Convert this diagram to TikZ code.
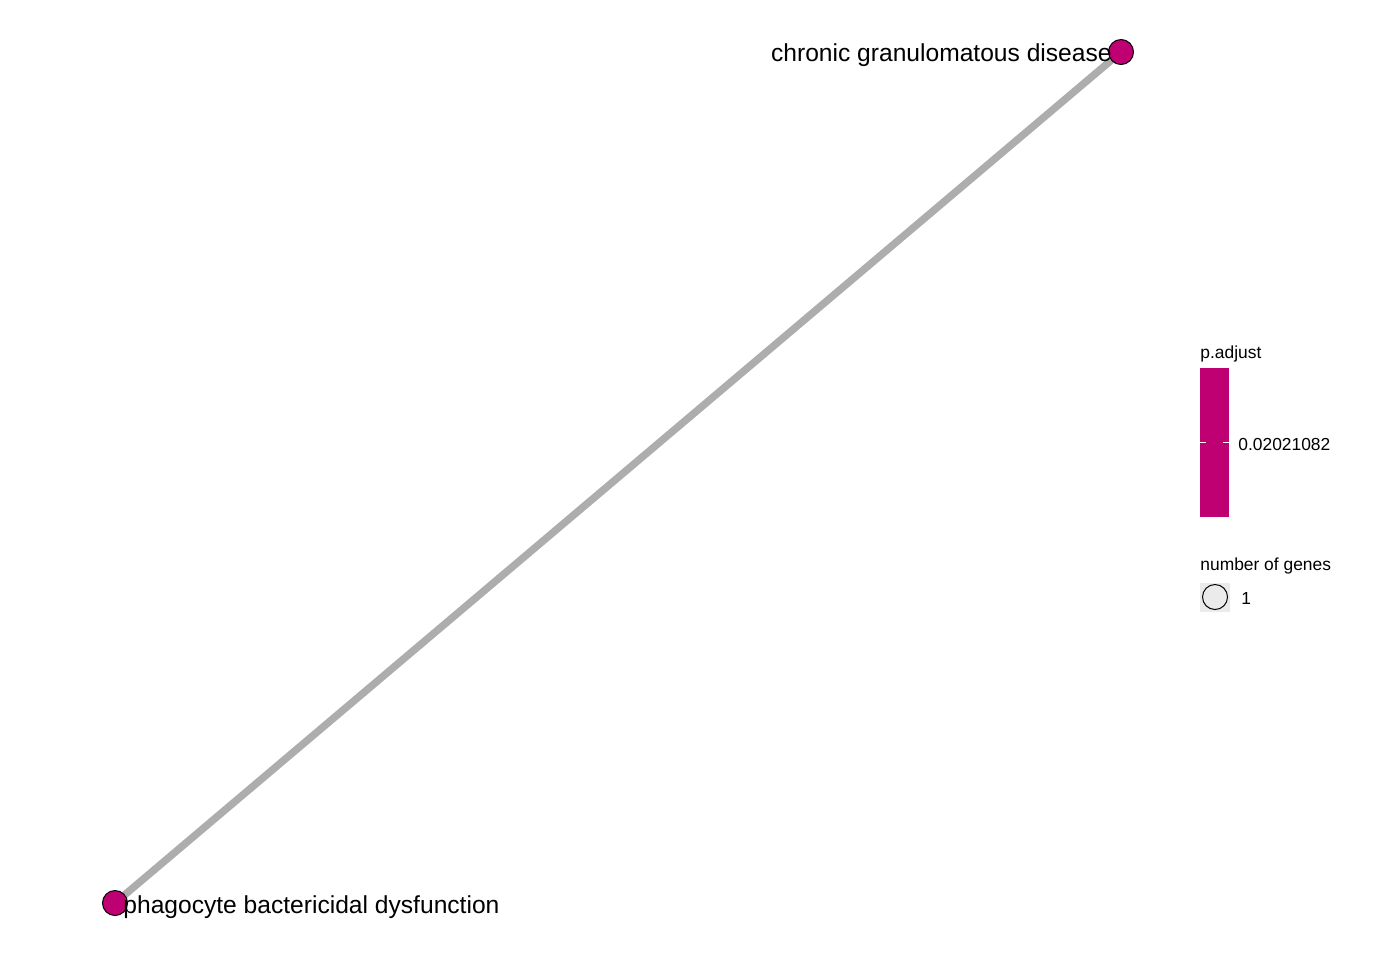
\documentclass[tikz,border=0pt]{standalone}
\usepackage{fontspec}
\setmainfont{Liberation Sans}
\definecolor{mag}{RGB}{190,0,115}
\definecolor{edgegray}{RGB}{173,173,173}
\definecolor{keygray}{RGB}{235,235,235}
\begin{document}
\begin{tikzpicture}[x=0.5pt,y=-0.5pt,
  gnode/.style={circle,draw=black,line width=0.5pt,fill=mag,minimum size=12.5pt,inner sep=0pt},
  lab/.style={font=\fontsize{12.3}{14}\selectfont,inner sep=0pt},
  leg/.style={font=\fontsize{8.7}{10}\selectfont,inner sep=0pt}]
\useasboundingbox (0,0) rectangle (1400,960);
\coordinate (c1) at (1121,52);
\coordinate (c2) at (115,903);
\draw[edgegray,line width=3.7pt] (c1) -- (c2);
\node[gnode] (n1) at (c1) {};
\node[gnode] (n2) at (c2) {};
\node[lab,anchor=east] (l1) at (1112,55) {chronic granulomatous disease};
\node[lab,anchor=west] (l2) at (123,907) {phagocyte bactericidal dysfunction};
% colour bar legend
\node[leg,anchor=base west] (t1) at (1200,358) {p.adjust};
\fill[mag] (1200,368) rectangle (1229,517);
\draw[white,line width=0.4pt] (1200,442) -- (1206,442) (1223,442) -- (1229,442);
\node[leg,anchor=west] (t2) at (1238,444) {0.02021082};
% size legend
\node[leg,anchor=base west] (t3) at (1200,570) {number of genes};
\fill[keygray] (1200,583) rectangle (1230,612);
\node[circle,draw=black,line width=0.5pt,fill=keygray,minimum size=12.5pt,inner sep=0pt] (k1) at (1215,597) {};
\node[leg,anchor=west] (t4) at (1241,598) {1};
\end{tikzpicture}
\end{document}
